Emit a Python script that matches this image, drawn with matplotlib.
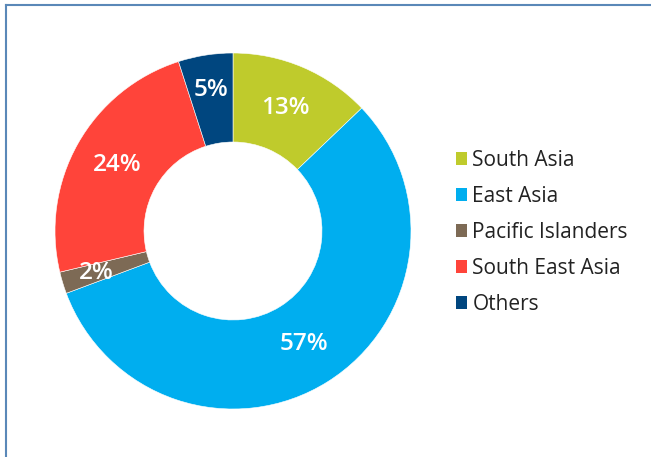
import matplotlib
matplotlib.use('Agg')
import matplotlib.pyplot as plt
from matplotlib.lines import Line2D
from matplotlib.patches import Patch

regions = ['South Asia', 'East Asia', 'Pacific Islanders', 'South East Asia', 'Others']
shares = [13, 57, 2, 24, 5]
colors = ['#bfcb2c', '#00aeef', '#7d6a55', '#ff443a', '#00467f']

plt.rcParams['font.family'] = ['Open Sans', 'DejaVu Sans']

fig = plt.figure(figsize=(6.51, 4.57), dpi=100)
ax = fig.add_axes([55 / 651, 48 / 457, 356 / 651, 356 / 457])

wedges, texts, autotexts = ax.pie(
    shares, colors=colors, startangle=90, counterclock=False, radius=1,
    wedgeprops=dict(width=0.5, edgecolor='white', linewidth=0.4),
    autopct=lambda p: '%d%%' % round(p * sum(shares) / 100),
    pctdistance=0.75,
    textprops=dict(color='white', fontsize=17.5, fontweight='semibold'))
# small slices have their labels a bit further out
for t, s in zip(autotexts, shares):
    if s < 6:
        x, y = t.get_position()
        t.set_position((x * 1.07, y * 1.07))
ax.set_xlim(-1, 1)
ax.set_ylim(-1, 1)
ax.set_aspect('equal')
ax.axis('off')

handles = [Patch(facecolor=c, edgecolor='none') for c in colors]
fig.legend(handles, regions, loc='upper left', bbox_to_anchor=(456 / 651, 1 - 150 / 457),
           frameon=False, fontsize=15, handlelength=0.53, handleheight=0.53,
           handletextpad=0.25, labelspacing=0.72, borderpad=0, borderaxespad=0,
           labelcolor='#222222')

# frame lines (top and left)
fig.add_artist(Line2D([5.5 / 651, 1], [1 - 4.5 / 457, 1 - 4.5 / 457], color='#5a88b8', lw=1.5))
fig.add_artist(Line2D([5.5 / 651, 5.5 / 651], [0, 1 - 4.5 / 457], color='#5a88b8', lw=1.5))

fig.savefig('out.png', dpi=100)
